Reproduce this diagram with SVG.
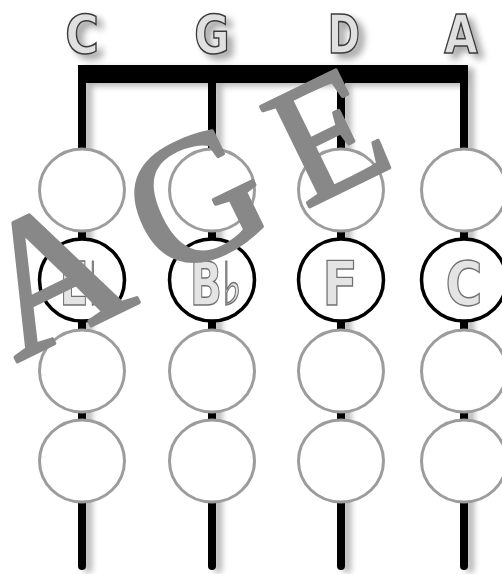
<svg xmlns="http://www.w3.org/2000/svg" width="502" height="574" viewBox="0 0 502 574">
<defs>
<filter id="sh" x="-10%" y="-10%" width="130%" height="130%">
<feGaussianBlur in="SourceAlpha" stdDeviation="3"/>
<feOffset dx="6" dy="3"/>
<feComponentTransfer><feFuncA type="linear" slope="0.3"/></feComponentTransfer>
<feMerge><feMergeNode/><feMergeNode in="SourceGraphic"/></feMerge>
</filter>
<filter id="tsh" x="-30%" y="-30%" width="180%" height="180%">
<feGaussianBlur in="SourceAlpha" stdDeviation="3.5"/>
<feOffset dx="6" dy="5"/>
<feComponentTransfer><feFuncA type="linear" slope="0.35"/></feComponentTransfer>
<feMerge><feMergeNode/><feMergeNode in="SourceGraphic"/></feMerge>
</filter>
</defs>
<style>
.str{stroke:#000;stroke-width:8;fill:none;stroke-linecap:round}
.ring{fill:#fff;stroke:#9c9c9c;stroke-width:3}
.on{stroke:#000;stroke-width:3.5}
.lbl{font-family:"DejaVu Sans",sans-serif;font-weight:bold;font-size:54px;fill:#e0e0e0;stroke:#3a3a3a;stroke-width:1.6;text-anchor:middle}
.note{font-family:"DejaVu Sans",sans-serif;font-weight:bold;font-size:60px;fill:#e4e4e4;stroke:#707070;stroke-width:1.4;text-anchor:middle}
.flat{font-weight:normal}
.wm{font-family:"Liberation Serif",serif;fill:#888;stroke:#888;stroke-width:3.5;stroke-linejoin:round;text-anchor:middle}
</style>
<rect width="502" height="574" fill="#fff"/>
<g id="connectors" filter="url(#sh)">
<rect x="78" y="65" width="390" height="18" fill="#000"/>
<line class="str" x1="82" y1="74" x2="82" y2="566"/>
<line class="str" x1="212" y1="74" x2="212" y2="566"/>
<line class="str" x1="341" y1="74" x2="341" y2="566"/>
<line class="str" x1="464" y1="74" x2="464" y2="566"/>
</g>
<g id="string-labels" filter="url(#tsh)">
<text class="lbl" transform="translate(82,53) scale(0.85,1)">C</text>
<text class="lbl" transform="translate(212,53) scale(0.8,1)">G</text>
<text class="lbl" transform="translate(344,53) scale(0.72,1)">D</text>
<text class="lbl" transform="translate(461,53) scale(0.8,1)">A</text>
</g>
<g id="col-C">
<ellipse class="ring" cx="82" cy="190" rx="42.5" ry="41"/>
<ellipse class="ring on" cx="82" cy="280" rx="42.5" ry="41"/>
<ellipse class="ring" cx="82" cy="371" rx="42.5" ry="41"/>
<ellipse class="ring" cx="82" cy="461" rx="42.5" ry="41"/>
<text class="note" transform="translate(84,305) scale(0.7,1)">E<tspan class="flat">♭</tspan></text>
</g>
<g id="col-G">
<ellipse class="ring" cx="212" cy="190" rx="42.5" ry="41"/>
<ellipse class="ring on" cx="212" cy="280" rx="42.5" ry="41"/>
<ellipse class="ring" cx="212" cy="371" rx="42.5" ry="41"/>
<ellipse class="ring" cx="212" cy="461" rx="42.5" ry="41"/>
<text class="note" transform="translate(216,305) scale(0.7,1)">B<tspan class="flat">♭</tspan></text>
</g>
<g id="col-D">
<ellipse class="ring" cx="341" cy="190" rx="42.5" ry="41"/>
<ellipse class="ring on" cx="341" cy="280" rx="42.5" ry="41"/>
<ellipse class="ring" cx="341" cy="371" rx="42.5" ry="41"/>
<ellipse class="ring" cx="341" cy="461" rx="42.5" ry="41"/>
<text class="note" transform="translate(340,305) scale(0.87,1)">F</text>
</g>
<g id="col-A">
<ellipse class="ring" cx="464" cy="190" rx="42.5" ry="41"/>
<ellipse class="ring on" cx="464" cy="280" rx="42.5" ry="41"/>
<ellipse class="ring" cx="464" cy="371" rx="42.5" ry="41"/>
<ellipse class="ring" cx="464" cy="461" rx="42.5" ry="41"/>
<text class="note" transform="translate(464,305) scale(0.84,1)">C</text>
</g>
<g id="watermark">
<text class="wm" font-size="192" transform="translate(78,332) rotate(-26)">A</text>
<text class="wm" font-size="180" transform="translate(222,253) rotate(-26)">G</text>
<text class="wm" font-size="170" transform="translate(352,186) rotate(-26)">E</text>
</g>
</svg>
